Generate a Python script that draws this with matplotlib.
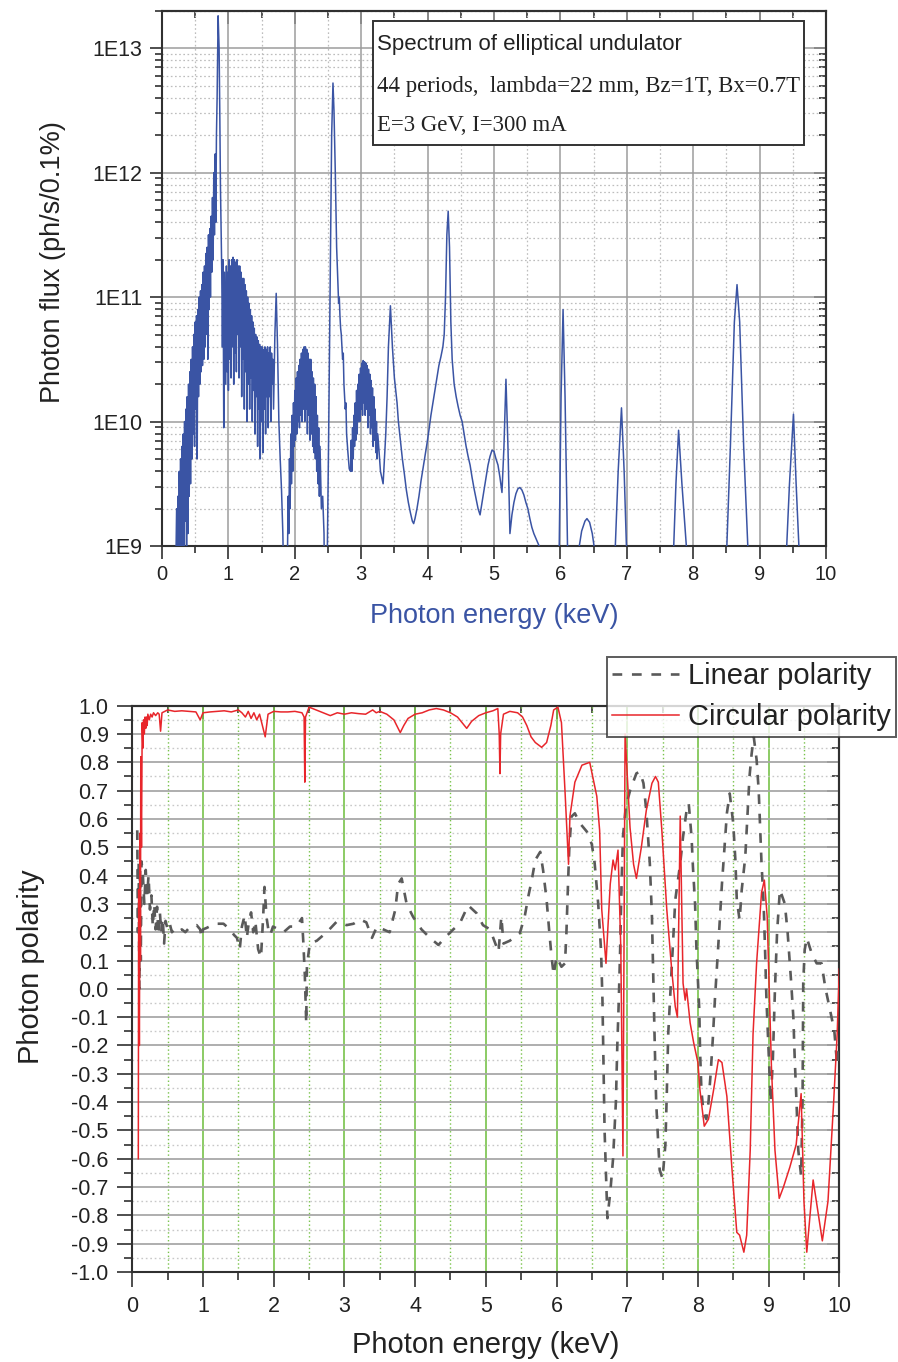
import numpy as np
import matplotlib
matplotlib.use("Agg")
import matplotlib.pyplot as plt
from matplotlib.ticker import MultipleLocator, LogLocator, FuncFormatter, NullFormatter
from matplotlib.patches import Rectangle

plt.rcParams['font.family'] = ['Liberation Sans', 'DejaVu Sans']
plt.rcParams['lines.scale_dashes'] = False

# ──────────────────────────────────────────────
#  Data
# ──────────────────────────────────────────────

# spectrum: photon energy (keV) and log10 of flux (ph/s/0.1%)
flux_kev = [
    0.20, 0.22, 0.23, 0.24, 0.25, 0.26, 0.27, 0.28, 0.29, 0.30, 0.31, 0.32, 0.33, 0.34,
    0.35, 0.36, 0.37, 0.38, 0.39, 0.40, 0.41, 0.42, 0.43, 0.44, 0.45, 0.46, 0.47, 0.48,
    0.49, 0.50, 0.51, 0.52, 0.53, 0.54, 0.55, 0.56, 0.57, 0.58, 0.59, 0.60, 0.61, 0.62,
    0.63, 0.64, 0.65, 0.66, 0.67, 0.68, 0.69, 0.70, 0.71, 0.72, 0.73, 0.74, 0.75, 0.76,
    0.77, 0.78, 0.79, 0.80, 0.81, 0.82, 0.83, 0.845, 0.86, 0.87, 0.88, 0.89, 0.90, 0.91,
    0.92, 0.93, 0.94,
    0.96, 0.97, 0.98, 0.99, 1.00, 1.01, 1.02, 1.03, 1.04, 1.05, 1.06, 1.07, 1.08, 1.09,
    1.10, 1.11, 1.12, 1.13, 1.14, 1.15, 1.16, 1.17, 1.18, 1.19, 1.20, 1.21, 1.22, 1.23,
    1.24, 1.25, 1.26, 1.27, 1.28, 1.29, 1.30, 1.31, 1.32, 1.33, 1.34, 1.35, 1.36, 1.37,
    1.38, 1.39, 1.40, 1.41, 1.42, 1.43, 1.44, 1.45, 1.46, 1.47, 1.48, 1.49, 1.50, 1.51,
    1.52, 1.53, 1.54, 1.55, 1.56, 1.57, 1.58, 1.59, 1.60, 1.61, 1.62, 1.63, 1.64, 1.65,
    1.66, 1.67, 1.68, 1.70, 1.72, 1.74, 1.76, 1.78, 1.80, 1.82, 1.84,
    1.88, 1.90, 1.91, 1.92, 1.93, 1.94, 1.95, 1.96, 1.97, 1.98, 1.99, 2.00, 2.01, 2.02,
    2.03, 2.04, 2.05, 2.06, 2.07, 2.08, 2.09, 2.10, 2.11, 2.12, 2.13, 2.14, 2.15, 2.16,
    2.17, 2.18, 2.19, 2.20, 2.21, 2.22, 2.23, 2.24, 2.25, 2.26, 2.27, 2.28, 2.29, 2.30,
    2.31, 2.32, 2.33, 2.34, 2.35, 2.36, 2.37, 2.38, 2.40, 2.42, 2.44, 2.45,
    2.48, 2.51, 2.53, 2.555, 2.575, 2.59, 2.61, 2.63, 2.65, 2.66, 2.67, 2.68, 2.69, 2.70,
    2.72, 2.73, 2.74, 2.76, 2.77, 2.78, 2.80, 2.82,
    2.84, 2.85, 2.86, 2.87, 2.88, 2.89, 2.90, 2.91, 2.92, 2.93, 2.94, 2.95, 2.96, 2.97,
    2.98, 2.99, 3.00, 3.01, 3.02, 3.03, 3.04, 3.05, 3.06, 3.07, 3.08, 3.09, 3.10, 3.11,
    3.12, 3.13, 3.14, 3.15, 3.16, 3.17, 3.18, 3.19, 3.20, 3.21, 3.22, 3.23, 3.24, 3.25,
    3.27, 3.29, 3.31, 3.33, 3.35, 3.37, 3.39, 3.41, 3.44, 3.47, 3.50, 3.52, 3.54, 3.56,
    3.58, 3.60, 3.62, 3.65, 3.68, 3.71, 3.74, 3.77, 3.79, 3.81, 3.84, 3.87, 3.90, 3.93,
    3.96, 3.99, 4.02, 4.05, 4.08, 4.11, 4.14, 4.17, 4.20, 4.23, 4.25, 4.27, 4.29, 4.31,
    4.33, 4.35, 4.37, 4.40, 4.43, 4.46, 4.49, 4.52, 4.55, 4.58, 4.61, 4.64, 4.67, 4.70,
    4.73, 4.76, 4.79, 4.82, 4.85, 4.88, 4.91, 4.94, 4.97, 5.00, 5.03, 5.06, 5.09, 5.12,
    5.15, 5.18, 5.21, 5.24, 5.27, 5.30, 5.33, 5.36, 5.39, 5.42, 5.45, 5.48, 5.51, 5.54,
    5.57, 5.60, 5.64, 5.68, 5.72,
    5.98, 6.01, 6.04, 6.07, 6.11,
    6.27, 6.32, 6.37, 6.40, 6.44, 6.48, 6.52,
    6.82, 6.87, 6.92, 6.96, 7.00,
    7.70, 7.74, 7.78, 7.83, 7.91,
    8.50, 8.56, 8.62, 8.66, 8.70, 8.76, 8.83,
    9.40, 9.45, 9.51, 9.55, 9.60,
]
flux_log = [
    8.5, 9.3, 8.5, 9.4, 8.5, 9.6, 8.8, 9.7, 8.5, 9.8, 9.0, 9.9, 8.7, 10.0,
    9.2, 10.1, 8.8, 10.2, 9.1, 10.3, 9.4, 10.4, 9.5, 10.5, 9.7, 10.6, 9.9, 10.7,
    9.8, 10.8, 10.1, 10.85, 9.7, 10.9, 10.2, 11.0, 10.3, 11.05, 10.4, 11.1, 10.45, 11.2,
    10.5, 11.25, 10.6, 11.35, 10.7, 11.4, 10.5, 11.5, 10.9, 11.55, 11.0, 11.65, 11.2, 11.8,
    11.3, 12.0, 11.5, 12.15, 11.6, 12.3, 12.6, 13.26, 13.0, 12.5, 11.9, 11.55, 11.2, 10.6,
    11.3, 9.95, 11.2,
    10.3, 11.25, 10.4, 11.2, 10.25, 11.3, 10.5, 11.25, 10.35, 11.3, 10.6, 11.32, 10.3, 11.3,
    10.55, 11.28, 10.4, 11.3, 10.7, 11.25, 10.35, 11.25, 10.6, 11.2, 10.2, 11.15, 10.5, 11.15,
    10.1, 11.1, 10.4, 11.05, 10.0, 11.0, 10.3, 10.95, 10.1, 10.9, 10.35, 10.85, 10.0, 10.8,
    10.25, 10.75, 9.9, 10.7, 10.2, 10.68, 9.8, 10.65, 10.1, 10.62, 9.7, 10.6, 10.0, 10.6,
    9.75, 10.58, 10.1, 10.6, 9.9, 10.58, 10.2, 10.6, 9.95, 10.55, 10.2, 10.6, 10.0, 10.55,
    10.3, 10.5, 10.1, 10.7, 11.03, 10.6, 10.0, 9.7, 9.45, 9.1, 8.5,
    8.5, 9.4, 9.1, 9.7, 9.3, 9.9, 9.5, 10.05, 9.6, 10.15, 9.8, 10.25, 9.85, 10.35,
    9.9, 10.4, 10.0, 10.45, 9.95, 10.5, 10.05, 10.55, 10.0, 10.58, 10.1, 10.6, 10.0, 10.6,
    10.1, 10.58, 9.9, 10.55, 10.05, 10.5, 9.85, 10.5, 9.9, 10.4, 9.8, 10.35, 9.75, 10.3,
    9.7, 10.2, 9.6, 10.05, 9.5, 9.95, 9.4, 9.8, 9.3, 9.4, 9.1, 8.5,
    8.5, 9.9, 10.95, 12.3, 12.72, 12.5, 12.0, 11.4, 11.1, 10.95, 11.0, 10.85, 10.75, 10.7,
    10.5, 10.55, 10.3, 10.1, 10.15, 9.9, 9.75, 9.62,
    9.6, 9.85, 9.6, 9.95, 9.7, 10.05, 9.8, 10.15, 9.85, 10.25, 9.9, 10.3, 10.0, 10.38,
    10.0, 10.43, 10.1, 10.47, 10.05, 10.49, 10.15, 10.48, 10.05, 10.47, 10.1, 10.45, 9.95, 10.42,
    10.05, 10.38, 9.9, 10.33, 9.95, 10.27, 9.8, 10.2, 9.85, 10.1, 9.75, 10.0, 9.7, 9.9,
    9.75, 9.6, 9.55, 9.5, 9.7, 9.9, 10.2, 10.6, 10.93, 10.6, 10.35, 10.25, 10.15, 10.0,
    9.9, 9.8, 9.7, 9.58, 9.45, 9.35, 9.27, 9.2, 9.18, 9.22, 9.3, 9.4, 9.52, 9.62,
    9.72, 9.82, 9.93, 10.05, 10.15, 10.25, 10.35, 10.45, 10.52, 10.6, 10.7, 11.0, 11.5, 11.69,
    11.4, 10.8, 10.5, 10.3, 10.2, 10.12, 10.05, 10.0, 9.9, 9.8, 9.72, 9.65, 9.55, 9.46,
    9.38, 9.3, 9.25, 9.35, 9.45, 9.55, 9.65, 9.72, 9.77, 9.76, 9.7, 9.65, 9.55, 9.43,
    9.8, 10.34, 9.8, 9.1, 9.25, 9.35, 9.42, 9.46, 9.47, 9.45, 9.41, 9.35, 9.3, 9.22,
    9.15, 9.1, 9.05, 9.0, 8.9,
    8.9, 10.2, 10.90, 10.2, 8.9,
    8.95, 9.12, 9.2, 9.22, 9.19, 9.1, 8.95,
    8.9, 9.6, 10.11, 9.6, 8.9,
    8.9, 9.5, 9.93, 9.5, 8.9,
    8.9, 9.8, 10.8, 11.10, 10.8, 9.8, 8.9,
    8.9, 9.5, 10.06, 9.5, 8.9,
]

# polarity: linear (dashed grey) and circular (red)
lin_kev = [
    0.07, 0.08, 0.09, 0.10, 0.11, 0.12, 0.13, 0.15, 0.17, 0.19, 0.21, 0.23, 0.25, 0.27,
    0.29, 0.31, 0.33, 0.35, 0.37, 0.39, 0.41, 0.43, 0.45, 0.47, 0.50, 0.53, 0.56, 0.60,
    0.65, 0.70, 0.75, 0.82, 0.91, 0.96, 0.98, 1.00, 1.05, 1.17, 1.29, 1.38, 1.44, 1.48,
    1.52, 1.55, 1.59, 1.62, 1.65, 1.68, 1.71, 1.74, 1.78, 1.82, 1.85, 1.87, 1.90, 1.93,
    1.95, 1.99, 2.07, 2.14, 2.23, 2.32, 2.40, 2.42, 2.44, 2.45, 2.46, 2.47, 2.51, 2.61,
    2.75, 2.89, 3.03, 3.13, 3.22, 3.31, 3.39, 3.46, 3.55, 3.64, 3.72, 3.76, 3.81, 3.88,
    3.97, 4.09, 4.21, 4.33, 4.42, 4.54, 4.63, 4.75, 4.87, 4.96, 5.06, 5.18, 5.22, 5.25,
    5.34, 5.48, 5.55, 5.60, 5.65, 5.70, 5.77, 5.81, 5.86, 5.90, 5.93, 5.96, 6.00, 6.07,
    6.12, 6.14, 6.16, 6.18, 6.21, 6.26, 6.33, 6.43, 6.50, 6.54, 6.59, 6.63, 6.65, 6.66,
    6.67, 6.68, 6.70, 6.72, 6.76, 6.80, 6.82, 6.84, 6.86, 6.88, 6.90, 6.92, 6.94, 6.98,
    7.04, 7.13, 7.18, 7.23, 7.27, 7.32, 7.35, 7.37, 7.39, 7.41, 7.44, 7.46, 7.50, 7.54,
    7.56, 7.58, 7.63, 7.68, 7.75, 7.79, 7.84, 7.87, 7.91, 7.93, 7.96, 7.98, 8.02, 8.03,
    8.05, 8.08, 8.12, 8.15, 8.18, 8.21, 8.24, 8.29, 8.34, 8.41, 8.45, 8.50, 8.53, 8.55,
    8.59, 8.62, 8.67, 8.70, 8.73, 8.76, 8.79, 8.83, 8.86, 8.88, 8.90, 8.93, 8.95, 8.97,
    9.00, 9.03, 9.06, 9.09, 9.12, 9.16, 9.23, 9.27, 9.32, 9.35, 9.37, 9.39, 9.42, 9.46,
    9.48, 9.49, 9.51, 9.54, 9.61, 9.68, 9.75, 9.80, 9.84, 9.89, 9.93, 9.97, 10.0,
]
lin_pol = [
    0.56, 0.20, 0.45, 0.00, 0.42, 0.10, 0.45, 0.40, 0.30, 0.42, 0.33, 0.40, 0.28, 0.33,
    0.22, 0.30, 0.21, 0.29, 0.19, 0.27, 0.20, 0.25, 0.16, 0.24, 0.21, 0.23, 0.20, 0.21,
    0.20, 0.21, 0.20, 0.22, 0.225, 0.21, 0.18, 0.21, 0.215, 0.23, 0.23, 0.21, 0.19, 0.18,
    0.14, 0.22, 0.26, 0.18, 0.24, 0.27, 0.20, 0.24, 0.14, 0.11, 0.25, 0.36, 0.25, 0.20,
    0.19, 0.22, 0.21, 0.20, 0.22, 0.22, 0.25, 0.16, 0.05, -0.04, -0.12, 0.08, 0.16, 0.17,
    0.20, 0.237, 0.225, 0.23, 0.245, 0.235, 0.18, 0.22, 0.21, 0.20, 0.28, 0.37, 0.39, 0.30,
    0.255, 0.21, 0.18, 0.155, 0.18, 0.21, 0.23, 0.295, 0.267, 0.225, 0.21, 0.13, 0.255, 0.16,
    0.17, 0.196, 0.255, 0.325, 0.384, 0.455, 0.484, 0.42, 0.314, 0.196, 0.113, 0.05, 0.113, 0.078,
    0.09, 0.196, 0.35, 0.49, 0.608, 0.62, 0.585, 0.555, 0.51, 0.443, 0.30, 0.137, -0.04, -0.20,
    -0.36, -0.50, -0.65, -0.81, -0.72, -0.60, -0.50, -0.40, -0.20, -0.05, 0.137, 0.37, 0.537, 0.643,
    0.70, 0.761, 0.767, 0.726, 0.63, 0.443, 0.255, 0.019, -0.20, -0.40, -0.55, -0.64, -0.67, -0.55,
    -0.37, -0.16, 0.078, 0.314, 0.443, 0.537, 0.63, 0.655, 0.537, 0.43, 0.30, 0.137, -0.075, -0.216,
    -0.36, -0.44, -0.46, -0.40, -0.30, -0.18, -0.04, 0.16, 0.37, 0.62, 0.69, 0.584, 0.455, 0.314,
    0.243, 0.35, 0.466, 0.608, 0.75, 0.83, 0.89, 0.81, 0.70, 0.573, 0.443, 0.30, 0.137, -0.04,
    -0.216, -0.40, -0.25, 0.00, 0.20, 0.35, 0.30, 0.196, 0.02, -0.10, -0.25, -0.37, -0.57, -0.66,
    -0.40, 0.02, 0.137, 0.18, 0.125, 0.09, 0.09, 0.007, -0.04, -0.10, -0.15, -0.27, -0.20,
]

circ_kev = [
    0.085, 0.09, 0.10, 0.11, 0.115, 0.12, 0.13, 0.14, 0.15, 0.16, 0.17, 0.18, 0.19, 0.20,
    0.21, 0.22, 0.24, 0.26, 0.28, 0.30, 0.33, 0.36, 0.38, 0.40, 0.42, 0.46, 0.50, 0.60,
    0.70, 0.80, 0.90, 0.96, 1.00, 1.10, 1.20, 1.30, 1.40, 1.50, 1.55, 1.60, 1.64, 1.68,
    1.72, 1.76, 1.80, 1.84, 1.88, 1.92, 1.96, 2.00, 2.10, 2.20, 2.30, 2.40, 2.43, 2.44,
    2.45, 2.50, 2.60, 2.70, 2.80, 2.90, 3.00, 3.10, 3.20, 3.30, 3.40, 3.45, 3.50, 3.60,
    3.70, 3.76, 3.79, 3.84, 3.90, 4.00, 4.10, 4.20, 4.30, 4.40, 4.50, 4.60, 4.68, 4.73,
    4.80, 4.90, 5.00, 5.10, 5.17, 5.19, 5.20, 5.21, 5.25, 5.34, 5.45, 5.52, 5.58, 5.64,
    5.70, 5.79, 5.86, 5.92, 5.96, 6.02, 6.07, 6.12, 6.17, 6.19, 6.26, 6.36, 6.47, 6.52,
    6.57, 6.61, 6.64, 6.70, 6.76, 6.80, 6.83, 6.87, 6.91, 6.94, 6.97, 7.04, 7.09, 7.13,
    7.20, 7.27, 7.35, 7.40, 7.44, 7.49, 7.56, 7.63, 7.68, 7.71, 7.75, 7.79, 7.82, 7.84,
    7.89, 7.94, 8.00, 8.03, 8.09, 8.15, 8.22, 8.29, 8.34, 8.41, 8.48, 8.55, 8.59, 8.65,
    8.69, 8.74, 8.78, 8.83, 8.90, 8.94, 8.98, 9.02, 9.04, 9.09, 9.15, 9.21, 9.30, 9.39,
    9.46, 9.50, 9.54, 9.63, 9.70, 9.76, 9.84, 9.92, 9.97, 10.0,
]
circ_pol = [
    -0.60, 0.35, -0.20, 0.55, 0.10, 0.82, 0.50, 0.94, 0.85, 0.95, 0.90, 0.96, 0.92, 0.96,
    0.93, 0.97, 0.95, 0.97, 0.96, 0.975, 0.965, 0.975, 0.97, 0.91, 0.975, 0.98, 0.985, 0.98,
    0.982, 0.98, 0.978, 0.95, 0.975, 0.978, 0.98, 0.982, 0.978, 0.985, 0.975, 0.96, 0.98, 0.955,
    0.975, 0.95, 0.97, 0.93, 0.89, 0.97, 0.975, 0.98, 0.978, 0.978, 0.98, 0.975, 0.96, 0.73,
    0.96, 0.995, 0.985, 0.975, 0.965, 0.975, 0.97, 0.975, 0.972, 0.97, 0.985, 0.975, 0.98, 0.97,
    0.95, 0.92, 0.905, 0.93, 0.955, 0.97, 0.975, 0.985, 0.99, 0.985, 0.975, 0.96, 0.935, 0.92,
    0.945, 0.965, 0.975, 0.982, 0.99, 0.90, 0.76, 0.90, 0.97, 0.98, 0.975, 0.96, 0.93, 0.89,
    0.87, 0.853, 0.87, 0.93, 0.985, 0.995, 0.94, 0.70, 0.44, 0.61, 0.73, 0.79, 0.80, 0.74,
    0.68, 0.56, 0.28, 0.09, 0.37, 0.455, 0.42, 0.49, 0.14, -0.59, 0.90, 0.57, 0.44, 0.39,
    0.50, 0.63, 0.726, 0.75, 0.73, 0.56, 0.28, 0.066, -0.063, -0.10, 0.61, 0.02, -0.04, 0.00,
    -0.12, -0.19, -0.26, -0.36, -0.485, -0.46, -0.36, -0.25, -0.26, -0.38, -0.63, -0.86, -0.87, -0.93,
    -0.87, -0.57, -0.16, 0.09, 0.34, 0.384, 0.255, -0.10, -0.275, -0.57, -0.74, -0.70, -0.63, -0.55,
    -0.37, -0.75, -0.93, -0.675, -0.79, -0.89, -0.75, -0.40, -0.16, 0.07,
]

info_title = "Spectrum of elliptical undulator"
info_lines = ["44 periods,  lambda=22 mm, Bz=1T, Bx=0.7T", "E=3 GeV, I=300 mA"]

# ──────────────────────────────────────────────
#  Figure
# ──────────────────────────────────────────────

W, H = 898, 1362
fig = plt.figure(figsize=(W / 100, H / 100), dpi=100)

ax1 = fig.add_axes([162 / W, 1 - 546 / H, 664 / W, 535.3 / H])
ax2 = fig.add_axes([132.3 / W, 1 - 1272 / H, 707 / W, 566.3 / H])

FRAME = "#303030"
TXT = "#222222"
BLUE = "#3a54a4"


def style_frame(ax):
    for sp in ax.spines.values():
        sp.set_color(FRAME)
        sp.set_linewidth(1.5)
    ax.tick_params(which="both", direction="out", color=FRAME, width=1.2,
                   labelcolor=TXT, labelsize=15.5)
    ax.tick_params(which="major", length=9, pad=5)
    ax.tick_params(which="minor", length=5)
    # mirrored inward ticks on top / right
    top = ax.secondary_xaxis("top")
    right = ax.secondary_yaxis("right")
    top.xaxis.set_major_locator(ax.xaxis.get_major_locator())
    top.xaxis.set_minor_locator(ax.xaxis.get_minor_locator())
    right.yaxis.set_major_locator(ax.yaxis.get_major_locator())
    right.yaxis.set_minor_locator(ax.yaxis.get_minor_locator())
    for sec, axis in ((top, top.xaxis), (right, right.yaxis)):
        axis.set_major_formatter(NullFormatter())
        axis.set_minor_formatter(NullFormatter())
        sec.tick_params(which="both", direction="in", color=FRAME, width=1.2)
        sec.tick_params(which="major", length=9)
        sec.tick_params(which="minor", length=5)
        for sp in sec.spines.values():
            sp.set_color(FRAME)
            sp.set_linewidth(1.5)


# ── Top: photon flux spectrum ──────────────

flux = 10.0 ** np.array(flux_log)
ax1.plot(flux_kev, flux, color=BLUE, lw=1.1, zorder=3)
ax1.set_yscale("log")
ax1.set_xlim(0, 10)
ax1.set_ylim(1e9, 2.0e13)
ax1.xaxis.set_major_locator(MultipleLocator(1))
ax1.xaxis.set_minor_locator(MultipleLocator(0.5))
ax1.yaxis.set_major_locator(LogLocator(base=10, numticks=10))
ax1.yaxis.set_minor_locator(LogLocator(base=10, subs=np.arange(2, 10), numticks=20))
ax1.yaxis.set_major_formatter(FuncFormatter(lambda v, p: f"1E{int(round(np.log10(v)))}"))
ax1.yaxis.set_minor_formatter(NullFormatter())
ax1.set_axisbelow(True)
ax1.grid(which="major", color="#9c9c9c", lw=1.1, ls="-")
ax1.grid(which="minor", color="#bdbdbd", lw=0.9, ls=(0, (1.2, 1.8)))
style_frame(ax1)
ax1.tick_params(axis="x", labelsize=14.5)

ax1.set_xlabel("Photon energy (keV)", fontsize=19.5, color=BLUE)
ax1.set_ylabel("Photon flux (ph/s/0.1%)", fontsize=19.5, color=TXT)
ax1.xaxis.set_label_coords(0.5, -0.107)
ax1.yaxis.set_label_coords(-0.144, 0.53)

ax1.add_patch(Rectangle((0.318, 0.749), 0.649, 0.232, transform=ax1.transAxes,
                        facecolor="white", edgecolor="#333333", lw=1.4, zorder=5))
ax1.text(0.324, 0.936, info_title, transform=ax1.transAxes, fontsize=16,
         va="center", ha="left", color=TXT, zorder=6)
ax1.text(0.324, 0.859, info_lines[0], transform=ax1.transAxes, fontsize=16.4,
         va="center", ha="left", color=TXT, zorder=6, family="Liberation Serif")
ax1.text(0.324, 0.785, info_lines[1], transform=ax1.transAxes, fontsize=16.4,
         va="center", ha="left", color=TXT, zorder=6, family="Liberation Serif")

# ── Bottom: photon polarity ────────────────

GREEN = "#78c24a"
lin_line, = ax2.plot(lin_kev, lin_pol, color="#5a5a5a", lw=1.9, dashes=(7, 7),
                     label="Linear polarity", zorder=3)
circ_line, = ax2.plot(circ_kev, circ_pol, color="#e8262b", lw=1.1,
                      label="Circular polarity", zorder=4)
ax2.set_xlim(0, 10)
ax2.set_ylim(-1.0, 1.0)
ax2.xaxis.set_major_locator(MultipleLocator(1))
ax2.xaxis.set_minor_locator(MultipleLocator(0.5))
ax2.yaxis.set_major_locator(MultipleLocator(0.1))
ax2.yaxis.set_minor_locator(MultipleLocator(0.05))


def pol_fmt(v, p):
    s = f"{v:.1f}"
    return "0.0" if s == "-0.0" else s


ax2.yaxis.set_major_formatter(FuncFormatter(pol_fmt))
ax2.set_axisbelow(True)
ax2.yaxis.grid(which="major", color="#a8a8a8", lw=1.3, ls="-")
ax2.yaxis.grid(which="minor", color="#c8c8c8", lw=1.0, ls=(0, (1.2, 2.0)))
ax2.xaxis.grid(which="major", color=GREEN, lw=1.2, ls="-")
ax2.xaxis.grid(which="minor", color=GREEN, lw=1.0, ls=(0, (1.0, 1.8)))
style_frame(ax2)
ax2.tick_params(which="major", length=11, pad=6)
ax2.tick_params(which="minor", length=6)

ax2.set_xlabel("Photon energy (keV)", fontsize=21, color=TXT)
ax2.set_ylabel("Photon polarity", fontsize=21, color=TXT)
ax2.xaxis.set_label_coords(0.5, -0.104)
ax2.yaxis.set_label_coords(-0.124, 0.539)

leg = fig.legend(handles=[lin_line, circ_line], loc="upper right",
                 bbox_to_anchor=(896 / W, 1 - 657 / H), bbox_transform=fig.transFigure,
                 fontsize=21, frameon=True, fancybox=False, borderaxespad=0,
                 borderpad=0.18, labelspacing=0.45, handlelength=2.3, handletextpad=0.3)
leg.get_frame().set_edgecolor("#333333")
leg.get_frame().set_linewidth(1.4)
for t in leg.get_texts():
    t.set_color(TXT)

fig.savefig("out.png", dpi=100)
